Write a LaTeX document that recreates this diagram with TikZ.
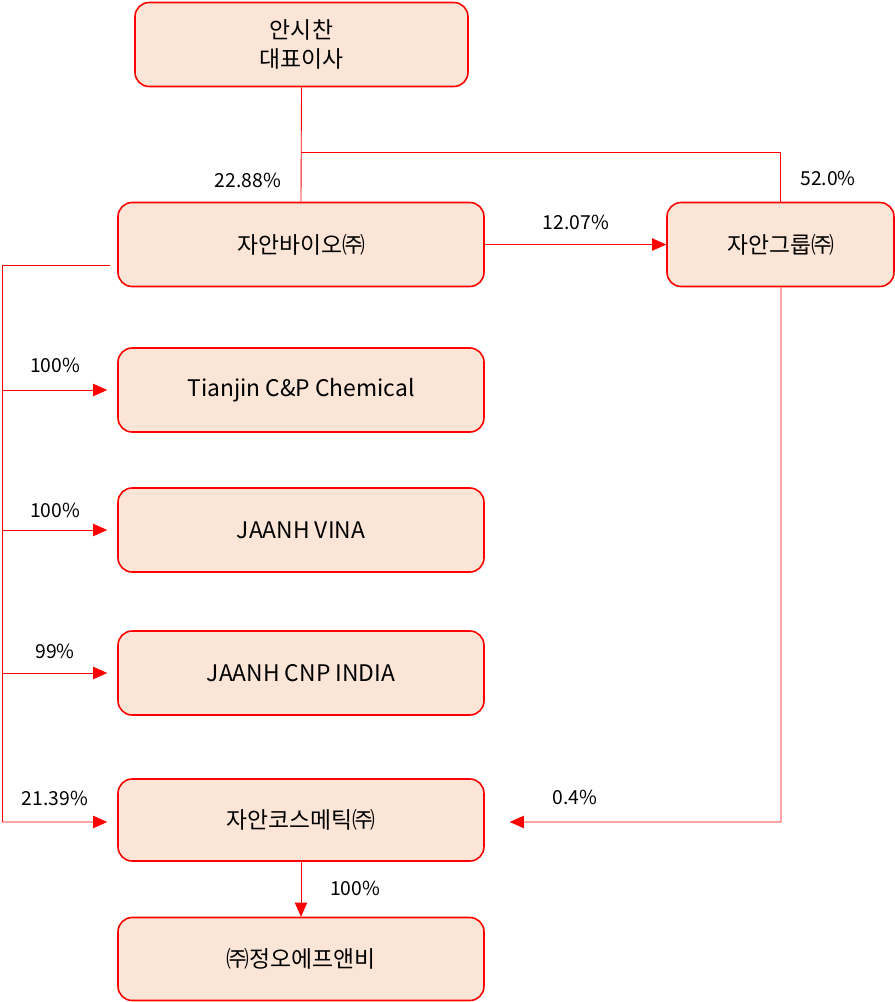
\documentclass[tikz,border=0pt]{standalone}
\usepackage{fontspec}
\setmainfont{Noto Sans CJK KR}
\usetikzlibrary{arrows.meta}
\definecolor{boxfill}{HTML}{FBE5D6}
\tikzset{
  entity/.style={draw=red, fill=boxfill, rounded corners=8pt, line width=0.9pt,
    minimum height=1.68cm, align=center, font=\fontsize{13}{17}\selectfont},
  link/.style={draw=red, line width=0.5pt},
  share/.style={font=\fontsize{11}{13}\selectfont}
}
\begin{document}
\begin{tikzpicture}[x=0.02cm, y=-0.02cm]
        \useasboundingbox (0,0) rectangle (895,1002);
        \node[entity, minimum width=6.66cm] (ceo) at (301.5, 44.5) {안시찬\\대표이사};
        \node[entity, minimum width=7.32cm] (bio) at (301, 244.5) {자안바이오㈜};
        \node[entity, minimum width=4.54cm] (grp) at (780.5, 244.5) {자안그룹㈜};
        \node[entity, minimum width=7.32cm] (tj) at (301, 390) {Tianjin C\&P Chemical};
        \node[entity, minimum width=7.32cm] (vina) at (301, 530) {JAANH VINA};
        \node[entity, minimum width=7.32cm] (india) at (301, 673) {JAANH CNP INDIA};
        \node[entity, minimum width=7.32cm, minimum height=1.64cm] (cos) at (301, 820) {자안코스메틱㈜};
        \node[entity, minimum width=7.32cm, minimum height=1.66cm] (jo) at (301, 959) {㈜정오에프앤비};

        % ownership lines
        \coordinate (split) at (301, 152);
        \coordinate (busTop) at (2, 265);
        \coordinate (busEnd) at (2, 822);
        \coordinate (grpEnd) at (781, 822);
        \draw[link] (ceo.south) -- (bio.north);
        \draw[link] (split) -| (grp.north);
        \draw[link, -{Triangle[length=8pt,width=7pt]}] (bio.east) -- (grp.west);
        \draw[link] (110, 265) -- (busTop) -- (busEnd);
        \foreach \t/\yy in {tj/390, vina/530, india/673}
          \draw[link, -{Triangle[length=8pt,width=7pt]}] (2, \yy) -- ([xshift=-0.2cm]\t.west);
        \draw[link, -{Triangle[length=8pt,width=7pt]}] (busEnd) -- ([xshift=-0.2cm, yshift=-0.04cm]cos.west);
        \draw[link, -{Triangle[length=8pt,width=7pt]}] (grp.south -| grpEnd) -- (grpEnd) -- ([xshift=0.5cm, yshift=-0.04cm]cos.east);
        \draw[link, -{Triangle[length=8pt,width=7pt]}] (cos.south) -- (jo.north);

        \node[share] (pBio) at (248, 180) {22.88\%};
        \node[share] (pGrp) at (828, 178) {52.0\%};
        \node[share] (pBG) at (576, 222) {12.07\%};
        \node[share] (pTj) at (55, 365) {100\%};
        \node[share] (pVina) at (55, 510) {100\%};
        \node[share] (pIndia) at (55, 651) {99\%};
        \node[share] (pCos) at (55, 798) {21.39\%};
        \node[share] (pGC) at (575, 797) {0.4\%};
        \node[share] (pJo) at (355, 888) {100\%};
\end{tikzpicture}
\end{document}
